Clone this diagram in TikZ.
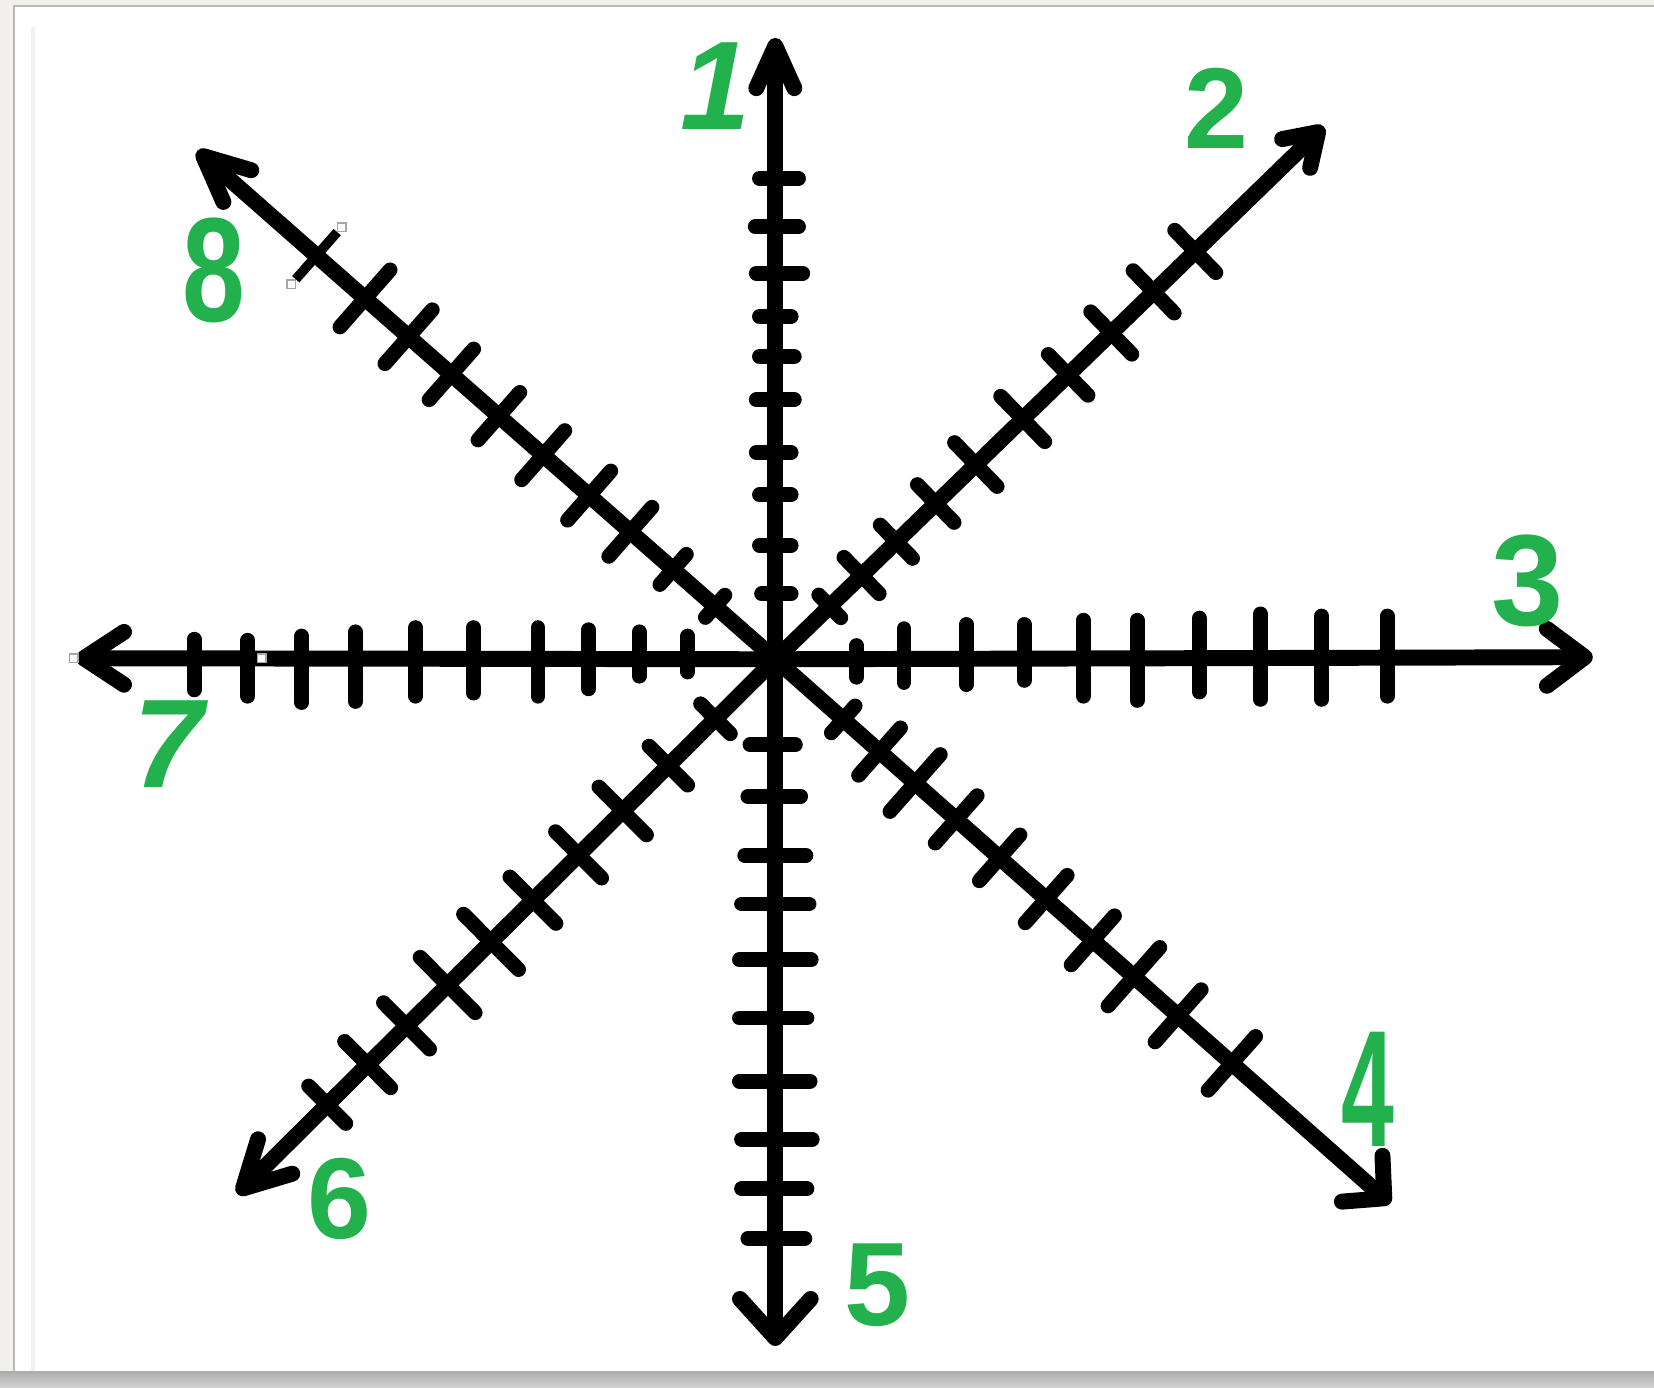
\documentclass[tikz,border=0pt]{standalone}
\usepackage{fontspec}
\setmainfont{Liberation Sans}
\usetikzlibrary{arrows.meta,calc}
\definecolor{paintgreen}{HTML}{22B14C}
\definecolor{deskbg}{HTML}{F2F0EA}

\begin{document}
\begin{tikzpicture}[
    x=0.01cm, y=-0.01cm,
    ray/.style={line width=4.3pt, line cap=round, line join=round},
    tick/.style={line width=4pt, line cap=round},
    numlabel/.style={text=paintgreen, font=\bfseries\fontsize{32}{32}\selectfont, inner sep=0pt},
    handle/.style={draw=gray!70, fill=white, line width=0.4pt, minimum size=0.08cm, inner sep=0pt},
]
    \useasboundingbox (0,0) rectangle (1568,1315);
    % page and desk
    \fill[deskbg] (0,0) rectangle (1568,1315);
    \shade[top color=gray!65, bottom color=gray!35] (0,1300) rectangle (1568,1315);
    \fill[white] (13,6) rectangle (1568,1300);
    \draw[gray!55, line width=0.6pt] (13,1300) -- (13,6) -- (1568,6);
    \draw[gray!10, line width=1pt] (31,26) -- (31,1300);

    \coordinate (O) at (735,625);
    \coordinate (t1) at (735,36);
    \coordinate (t2) at (1255,120);
    \coordinate (t3) at (1510,623);
    \coordinate (t4) at (1318,1141);
    \coordinate (t5) at (735,1276);
    \coordinate (t6) at (225,1132);
    \coordinate (t7) at (72,624);
    \coordinate (t8) at (187,143);

    % the eight rays
    \draw[ray, -{Straight Barb[round, length=4mm, width=3.6mm]}] (O) -- (t1);
    \draw[ray, -{Straight Barb[round, length=2.9mm, width=3.8mm]}] (O) -- (t2);
    \draw[ray, -{Straight Barb[round, length=3.6mm, width=5.4mm]}] (O) -- (t3);
    \draw[ray, -{Straight Barb[round, length=2.8mm, width=5.8mm]}] (O) -- (t4);
    \draw[ray, -{Straight Barb[round, length=3.7mm, width=6.7mm]}] (O) -- (t5);
    \draw[ray, -{Straight Barb[round, length=4.3mm, width=4.6mm]}] (O) -- (t6);
    \draw[ray, -{Straight Barb[round, length=3.8mm, width=5mm]}] (O) -- (t7);
    \draw[ray, -{Straight Barb[round, length=4.3mm, width=4mm]}] (O) -- (t8);

    % ticks on the straight rays
    \foreach \d/\a/\b in {62/13/15, 108/15/15, 156/15/15, 196/18/15, 246/18/18,
                          287/15/18, 325/15/15, 366/18/26, 410/19/22, 456/15/22}
        \draw[tick] ($(O)+(-\a,-\d)$) -- ++(\a+\b,0);
    \foreach \d/\a/\b in {81/24/19, 130/26/24, 186/29/29, 232/32/32, 285/34/34,
                          340/34/30, 400/34/33, 455/32/35, 502/32/30, 549/26/28}
        \draw[tick] ($(O)+(-\a,\d)$) -- ++(\a+\b,0);
    \foreach \d/\a/\b in {77/13/17, 122/29/22, 181/33/24, 236/33/20, 292/37/35,
                          343/37/39, 402/39/31, 460/43/38, 518/41/38, 580/41/35}
        \draw[tick] ($(O)+(\d,-\a)$) -- ++(0,\a+\b);
    \foreach \d/\a/\b in {83/22/12, 129/26/16, 177/28/28, 225/30/35, 286/30/32,
                          341/30/35, 398/26/40, 449/22/41, 500/18/35, 551/19/29}
        \draw[tick] ($(O)+(-\d,-\a)$) -- ++(0,\a+\b);

    % ticks on the slanted rays
    \foreach \d/\h in {72/15, 114/24, 160/22, 212/25, 265/29, 327/30, 387/27, 444/28, 500/28, 555/28} {
        \coordinate (p) at ($(O)!\d*0.01cm!(t2)$);
        \draw[tick] ($(p)!\h*0.01cm!90:(t2)$) -- ($(p)!\h*0.01cm!-90:(t2)$);
    }
    \foreach \d/\h in {86/17, 132/30, 177/36, 229/30, 284/29, 343/30, 402/31, 454/37, 510/33, 578/34} {
        \coordinate (p) at ($(O)!\d*0.01cm!(t4)$);
        \draw[tick] ($(p)!\h*0.01cm!90:(t4)$) -- ($(p)!\h*0.01cm!-90:(t4)$);
    }
    \foreach \d/\h in {80/20, 143/26, 204/32, 263/31, 324/31, 380/37, 438/37, 493/31, 545/31, 599/25} {
        \coordinate (p) at ($(O)!\d*0.01cm!(t6)$);
        \draw[tick] ($(p)!\h*0.01cm!90:(t6)$) -- ($(p)!\h*0.01cm!-90:(t6)$);
    }
    \foreach \d/\h in {76/14, 129/19, 183/31, 235/31, 293/31, 349/30, 409/32, 463/34, 518/36} {
        \coordinate (p) at ($(O)!\d*0.01cm!(t8)$);
        \draw[tick] ($(p)!\h*0.01cm!90:(t8)$) -- ($(p)!\h*0.01cm!-90:(t8)$);
    }
    \coordinate (p) at ($(O)!5.79cm!(t8)$);
    \node[handle] (hA) at ($(p)!0.36cm!90:(t8)$) {};
    \node[handle] (hB) at ($(p)!0.36cm!-90:(t8)$) {};
    \draw[line width=2.6pt] (hA) -- (hB);
    \node[handle] (hC) at (70,624) {};
    \node[handle] (hD) at (248,624) {};

    % green numbers
    \node[numlabel, font=\bfseries\itshape\fontsize{34}{34}\selectfont] (n1) at (678,82) {1};
    \node[numlabel, font=\bfseries\fontsize{31}{31}\selectfont] (n2) at (1153,103) {2};
    \node[numlabel, font=\bfseries\fontsize{35}{35}\selectfont] (n3) at (1448,551) {3};
    \node[numlabel] (n4) at (1297,1033) {\scalebox{0.8}[1.4]{4}};
    \node[numlabel] (n5) at (832,1218) {5};
    \node[numlabel, font=\bfseries\fontsize{31}{31}\selectfont] (n6) at (322,1137) {6};
    \node[numlabel, font=\bfseries\itshape\fontsize{34}{34}\selectfont] (n7) at (160,705) {7};
    \node[numlabel] (n8) at (203,256) {\scalebox{0.95}[1.25]{8}};
\end{tikzpicture}
\end{document}
